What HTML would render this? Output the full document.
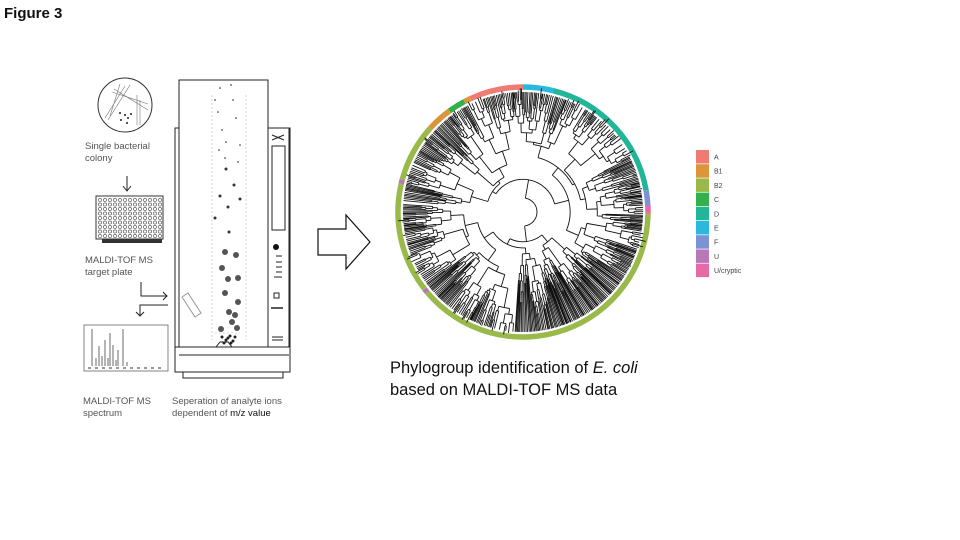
<!DOCTYPE html>
<html><head><meta charset="utf-8"><style>
html,body{margin:0;padding:0;background:#fff}
body{width:960px;height:540px;position:relative;overflow:hidden;font-family:"Liberation Sans",sans-serif}
.t{position:absolute;color:#555;font-size:9.5px;line-height:12px}
</style></head><body>
<div style="position:absolute;left:4px;top:5px;font-weight:bold;font-size:15px;color:#111">Figure 3</div>
<svg width="960" height="540" style="position:absolute;left:0;top:0">
<circle cx="125" cy="105" r="27" fill="none" stroke="#333" stroke-width="1"/>
<g stroke="#777" stroke-width="0.6">
<line x1="105" y1="118" x2="125" y2="86"/><line x1="108" y1="120" x2="130" y2="85"/><line x1="110" y1="116" x2="120" y2="84"/>
<line x1="112" y1="92" x2="148" y2="104"/><line x1="114" y1="89" x2="148" y2="110"/><line x1="140" y1="100" x2="140" y2="125"/><line x1="137" y1="95" x2="137" y2="125"/>
</g>
<g fill="#222"><circle cx="120" cy="113" r="1"/><circle cx="125" cy="115" r="1"/><circle cx="128" cy="118" r="1"/><circle cx="121" cy="120" r="1"/><circle cx="127" cy="123" r="1"/><circle cx="131" cy="114" r="1"/></g>
<g stroke="#222" stroke-width="1" fill="none">
<line x1="127" y1="176" x2="127" y2="191"/><polyline points="123,186 127,191 131,186"/>
<polyline points="141,282 141,296 167,296"/><polyline points="163,292 167,296 163,300"/>
<polyline points="168,305 140,305 140,316"/><polyline points="136,312 140,316 144,312"/>
</g>
<rect x="96" y="196" width="67" height="43" fill="#fff" stroke="#333" stroke-width="1"/>
<g id="holes" fill="none" stroke="#444" stroke-width="0.6"></g>
<rect x="102" y="239" width="60" height="4" fill="#333"/>
<rect x="84" y="325" width="84" height="46" fill="none" stroke="#666" stroke-width="0.8"/>
<g stroke="#444" stroke-width="0.8">
<line x1="96" y1="366" x2="96" y2="358"/><line x1="99" y1="366" x2="99" y2="346"/><line x1="102" y1="366" x2="102" y2="356"/><line x1="105" y1="366" x2="105" y2="340"/><line x1="108" y1="366" x2="108" y2="358"/><line x1="110" y1="366" x2="110" y2="333"/><line x1="113" y1="366" x2="113" y2="345"/><line x1="116" y1="366" x2="116" y2="360"/><line x1="118" y1="366" x2="118" y2="350"/><line x1="123" y1="366" x2="123" y2="329"/><line x1="127" y1="366" x2="127" y2="362"/><line x1="92" y1="366" x2="92" y2="329"/>
</g>
<line x1="88" y1="368" x2="162" y2="368" stroke="#333" stroke-width="1" stroke-dasharray="3,4"/>
<g stroke="#222" stroke-width="1" fill="none">
<rect x="179" y="80" width="89" height="267" fill="#fff"/>
<rect x="268" y="128" width="21" height="219"/>
<polyline points="179,128 175,128 175,372 290,372 290,128 289,128"/>
<line x1="179" y1="355" x2="289" y2="355"/>
<line x1="175" y1="347" x2="290" y2="347"/>
<polyline points="183,372 183,378 283,378 283,372"/>
<rect x="272" y="146" width="13" height="84"/>
<line x1="272" y1="135" x2="284" y2="140"/><line x1="272" y1="140" x2="284" y2="135"/>
<line x1="272" y1="337" x2="283" y2="337"/><line x1="272" y1="340" x2="283" y2="340"/>
<rect x="274" y="293" width="5" height="5"/>
<line x1="271" y1="308" x2="283" y2="308" stroke-width="1.5"/>
<line x1="276" y1="256" x2="282" y2="256"/><line x1="276" y1="262" x2="282" y2="262"/><line x1="276" y1="267" x2="282" y2="267"/><line x1="276" y1="272" x2="282" y2="272"/><line x1="274" y1="277" x2="282" y2="277"/>
<polygon points="182,297 195,317 201,313 188,293" stroke="#999"/>
<polyline points="216,347 220,342 228,342 232,347"/>
</g>
<circle cx="276" cy="247" r="3" fill="#111"/>
<g stroke="#bbb" stroke-width="0.6" stroke-dasharray="2,2"><line x1="212" y1="95" x2="212" y2="340"/><line x1="246" y1="95" x2="246" y2="340"/><line x1="215" y1="333" x2="240" y2="333"/></g>
<g id="dots"></g>
<polygon points="318,229 346,229 346,215 370,242 346,269 346,255 318,255" fill="#fff" stroke="#111" stroke-width="1.2"/>
<g id="ring"></g>
<g id="tree" stroke="#111" stroke-width="0.9" fill="none"></g>
<g id="leg"></g>
</svg>
<div class="t" style="left:85px;top:141px">Single bacterial<br>colony</div>
<div class="t" style="left:85px;top:255px">MALDI-TOF MS<br>target plate</div>
<div class="t" style="left:83px;top:396px">MALDI-TOF MS<br>spectrum</div>
<div class="t" style="left:172px;top:396px">Seperation of analyte ions<br>dependent of <span style="color:#111">m/z value</span></div>
<div style="position:absolute;left:390px;top:357px;font-size:16.5px;line-height:22px;color:#111">Phylogroup identification of <i>E. coli</i><br>based on MALDI-TOF MS data</div>
<script>
var NS="http://www.w3.org/2000/svg";
function el(p,n,a){var e=document.createElementNS(NS,n);for(var k in a)e.setAttribute(k,a[k]);p.appendChild(e);return e;}
var h=document.getElementById('holes');
for(var r=0;r<9;r++)for(var c=0;c<13;c++)el(h,'circle',{cx:100+c*5,cy:200+r*4.5,r:1.6});
var d=document.getElementById('dots');
var sm=[[220,88],[231,85],[215,100],[233,100],[218,112],[236,118],[222,130],[226,142],[240,145],[219,150],[225,158],[238,162]];
sm.forEach(function(p){el(d,'circle',{cx:p[0],cy:p[1],r:0.8,fill:'#222'})});
var md=[[226,169],[234,185],[220,196],[240,199],[228,207],[215,218],[229,232]];
md.forEach(function(p){el(d,'circle',{cx:p[0],cy:p[1],r:1.5,fill:'#333'})});
var bg=[[225,252],[236,255],[222,268],[228,279],[238,278],[225,293],[238,302],[229,312],[235,315],[232,322],[221,329],[237,328]];
bg.forEach(function(p){el(d,'circle',{cx:p[0],cy:p[1],r:3,fill:'#555'})});
var bd=[[222,337],[226,340],[230,336],[233,341],[235,337],[224,343],[231,343],[228,338]];
bd.forEach(function(p){el(d,'circle',{cx:p[0],cy:p[1],r:1.5,fill:'#222'})});
var cx=523,cy=212;
function pt(a,r){var t=(a-90)*Math.PI/180;return [cx+r*Math.cos(t),cy+r*Math.sin(t)];}
var ring=document.getElementById('ring');
var segs=[[-25,0,'#f07b72'],[0,14,'#2ab9dc'],[14,80,'#22b597'],[80,87,'#7b93d2'],[87,90,'#e56aa6'],[90,91,'#f07b72'],[91,230,'#9ab94b'],[230,232,'#b878b8'],[232,283,'#9ab94b'],[283,285,'#b878b8'],[285,312,'#9ab94b'],[312,324,'#db953a'],[324,332,'#33b04a'],[332,335,'#db953a']];
segs.forEach(function(s){var a=pt(s[0],125),b=pt(s[1],125);var lg=(s[1]-s[0])>180?1:0;
el(ring,'path',{d:'M'+a[0]+' '+a[1]+' A125 125 0 '+lg+' 1 '+b[0]+' '+b[1],stroke:s[2],'stroke-width':5.5,fill:'none'});});
var tr=document.getElementById('tree');var seed=11;function rnd(){seed=(seed*9301+49297)%233280;return seed/233280;}
function arc(a1,a2,r){var p=pt(a1,r),q=pt(a2,r);return 'M'+p[0]+' '+p[1]+' A'+r+' '+r+' 0 '+((a2-a1)>180?1:0)+' 1 '+q[0]+' '+q[1];}
var D='';
function build(a1,a2,r){var w=a2-a1;var mid=(a1+a2)/2;
if(w<1.1||r>116){var p=pt(mid,r),q=pt(mid,120);D+='M'+p[0]+' '+p[1]+'L'+q[0]+' '+q[1];return mid;}
var cut=a1+w*(0.2+rnd()*0.6);var ch=[[a1,cut],[cut,a2]];var cs=[];
ch.forEach(function(c){var cw=c[1]-c[0];var nr=r+(r<30?6+rnd()*14:2+rnd()*(cw<8?10:20));var m=build(c[0],c[1],nr);var p=pt(m,r),q=pt(m,nr);D+='M'+p[0]+' '+p[1]+'L'+q[0]+' '+q[1];cs.push(m);});
D+=arc(cs[0],cs[1],r);return (cs[0]+cs[1])/2;}
build(-85,274,14);
el(tr,'path',{d:D});
var lg=document.getElementById('leg');
var L=[['A','#f07b72'],['B1','#db953a'],['B2','#9ab94b'],['C','#33b04a'],['D','#22b597'],['E','#2ab9dc'],['F','#7b93d2'],['U','#b878b8'],['U/cryptic','#e56aa6']];
L.forEach(function(l,i){el(lg,'rect',{x:696,y:150+i*14.2,width:13,height:13.5,fill:l[1]});var t=el(lg,'text',{x:714,y:159.5+i*14.2,'font-size':7,fill:'#444','font-family':'Liberation Sans'});t.textContent=l[0];});
</script>
</body></html>
